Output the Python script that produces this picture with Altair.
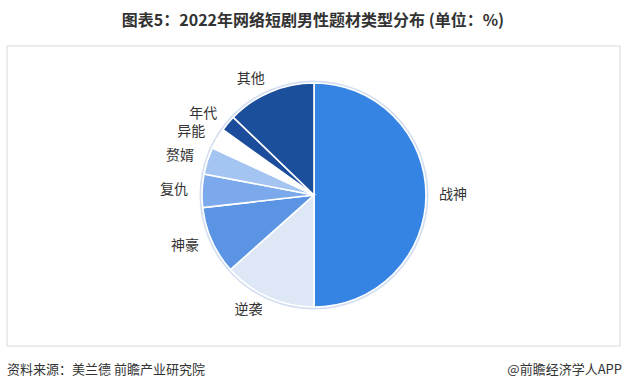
import altair as alt
import pandas as pd

categories = ["战神", "逆袭", "神豪", "复仇", "赘婿", "异能", "年代", "其他"]
shares = [50.0, 13.4, 9.8, 4.8, 3.9, 3.0, 2.3, 12.8]
colors = ["#3584E4", "#DDE7F6", "#5A94E3", "#7BA9EB", "#A4C4F2", "#FFFFFF", "#1C4C9C", "#1B4E9B"]

title_text = "图表5：2022年网络短剧男性题材类型分布 (单位：%)"
source_text = "资料来源：美兰德 前瞻产业研究院"
brand_text = "@前瞻经济学人APP"

FONT = "Noto Sans CJK SC"

df = pd.DataFrame({"cat": categories, "share": shares, "idx": list(range(len(categories)))})

W, H = 626, 390
CX, CY = 314, 195

frame = alt.Chart(pd.DataFrame({"a": [0]})).mark_rect(
    fill="white", stroke="#d9d9d9", strokeWidth=1
).encode(x=alt.value(7), x2=alt.value(620), y=alt.value(46), y2=alt.value(346))

ring = alt.Chart(pd.DataFrame({"v": [100.0]})).mark_arc(
    outerRadius=114.5, fill="#D3DFF1"
).encode(theta=alt.Theta("v:Q", stack=True), x=alt.value(CX), y=alt.value(CY))

pie = alt.Chart(df).mark_arc(outerRadius=112, stroke="white", strokeWidth=1.6).encode(
    theta=alt.Theta("share:Q", stack=True),
    order=alt.Order("idx:Q"),
    color=alt.Color("cat:N", scale=alt.Scale(domain=categories, range=colors), legend=None),
    x=alt.value(CX), y=alt.value(CY),
)

lbl_left = alt.Chart(df).transform_calculate(
    lbl="datum.cat == '战神' ? '' : datum.cat"
).mark_text(radius=126, align="right", baseline="middle", font=FONT, fontSize=14, color="#333333").encode(
    theta=alt.Theta("share:Q", stack=True),
    order=alt.Order("idx:Q"),
    text="lbl:N",
    x=alt.value(CX), y=alt.value(CY),
)

lbl_right = alt.Chart(df).transform_calculate(
    lbl="datum.cat == '战神' ? datum.cat : ''"
).mark_text(radius=125, align="left", baseline="middle", font=FONT, fontSize=14, color="#333333").encode(
    theta=alt.Theta("share:Q", stack=True),
    order=alt.Order("idx:Q"),
    text="lbl:N",
    x=alt.value(CX), y=alt.value(CY),
)

title = alt.Chart(pd.DataFrame({"t": [title_text]})).mark_text(
    font=FONT, fontSize=16, fontWeight="bold", color="#333333", align="center", baseline="middle"
).encode(text="t:N", x=alt.value(313), y=alt.value(21))

src = alt.Chart(pd.DataFrame({"t": [source_text]})).mark_text(
    font=FONT, fontSize=13, color="#333333", align="left", baseline="middle"
).encode(text="t:N", x=alt.value(7), y=alt.value(370))

brand = alt.Chart(pd.DataFrame({"t": [brand_text]})).mark_text(
    font=FONT, fontSize=13, color="#333333", align="right", baseline="middle"
).encode(text="t:N", x=alt.value(622), y=alt.value(370))

chart = alt.layer(frame, ring, pie, lbl_left, lbl_right, title, src, brand).properties(
    width=W, height=H, padding=0, autosize=alt.AutoSizeParams(type="none"),
    background="white",
).configure_view(stroke=None)

chart.save("out.html", embed_options={"renderer": "svg", "actions": False})
